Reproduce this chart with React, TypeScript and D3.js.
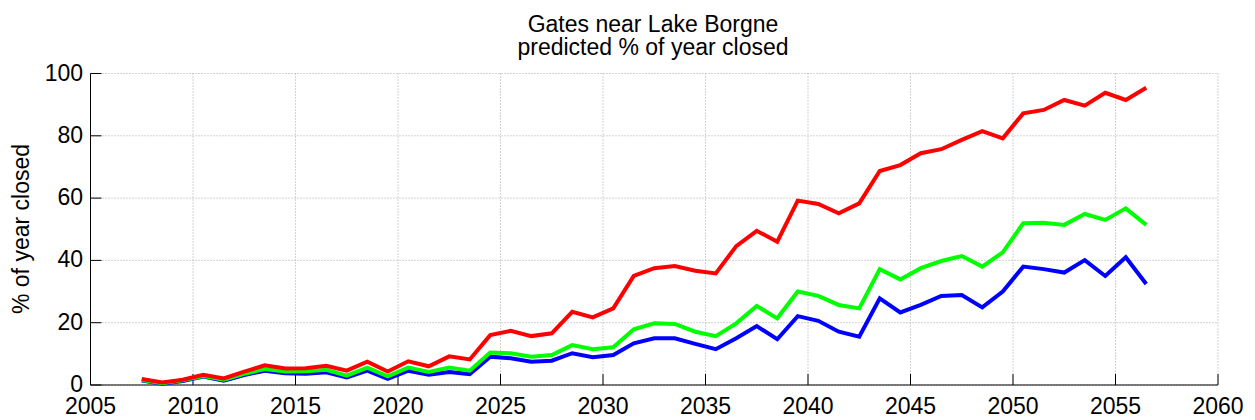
import React from "react";
import * as d3 from "d3";

const years = [
  2007.5, 2008.5, 2009.5, 2010.5, 2011.5, 2012.5, 2013.5, 2014.5, 2015.5, 2016.5,
  2017.5, 2018.5, 2019.5, 2020.5, 2021.5, 2022.5, 2023.5, 2024.5, 2025.5, 2026.5,
  2027.5, 2028.5, 2029.5, 2030.5, 2031.5, 2032.5, 2033.5, 2034.5, 2035.5, 2036.5,
  2037.5, 2038.5, 2039.5, 2040.5, 2041.5, 2042.5, 2043.5, 2044.5, 2045.5, 2046.5,
  2047.5, 2048.5, 2049.5, 2050.5, 2051.5, 2052.5, 2053.5, 2054.5, 2055.5, 2056.5,
];

const redValues = [
  1.9, 0.8, 1.7, 3.3, 2.1, 4.3, 6.3, 5.3, 5.4, 6.2,
  4.6, 7.5, 4.3, 7.6, 6.0, 9.2, 8.2, 16.0, 17.4, 15.7,
  16.6, 23.5, 21.7, 24.6, 35.0, 37.5, 38.2, 36.7, 35.8, 44.6,
  49.5, 46.0, 59.2, 58.1, 55.1, 58.3, 68.7, 70.6, 74.4, 75.7,
  78.7, 81.5, 79.2, 87.2, 88.3, 91.5, 89.7, 93.8, 91.5, 95.4,
];

const greenValues = [
  1.6, 0.6, 1.5, 2.9, 1.7, 3.6, 5.1, 4.3, 4.4, 4.9,
  3.0, 5.6, 2.8, 5.6, 4.2, 5.6, 4.6, 10.4, 10.2, 9.1,
  9.6, 12.8, 11.5, 12.1, 17.9, 19.8, 19.6, 17.1, 15.7, 19.8,
  25.4, 21.4, 30.0, 28.6, 25.7, 24.6, 37.2, 33.9, 37.5, 39.8,
  41.4, 38.0, 42.6, 51.9, 52.1, 51.4, 54.9, 53.0, 56.7, 51.4,
];

const blueValues = [
  1.4, 0.4, 1.3, 2.7, 1.4, 3.2, 4.6, 3.8, 3.6, 4.1,
  2.4, 4.6, 2.0, 4.6, 3.3, 4.2, 3.5, 9.1, 8.6, 7.5,
  7.8, 10.2, 8.9, 9.6, 13.4, 15.0, 15.0, 13.2, 11.5, 15.0,
  18.9, 14.7, 22.1, 20.6, 17.1, 15.5, 27.8, 23.3, 25.7, 28.6,
  28.9, 24.9, 30.0, 38.0, 37.2, 36.1, 40.1, 35.0, 41.0, 32.4,
];

const xTicks = [2005, 2010, 2015, 2020, 2025, 2030, 2035, 2040, 2045, 2050, 2055, 2060];
const yTicks = [0, 20, 40, 60, 80, 100];
const titleLines = ["Gates near Lake Borgne", "predicted % of year closed"];
const yLabel = "% of year closed";

const series = [
  { name: "low", color: "#0000ff", values: blueValues },
  { name: "mid", color: "#00ff00", values: greenValues },
  { name: "high", color: "#ff0000", values: redValues },
];

const W = 1255;
const H = 420;
const M = { left: 90.5, right: 1218, top: 73.5, bottom: 385 };
const FONT = "'Liberation Sans', Arial, Helvetica, sans-serif";

export default function App() {
  const x = d3.scaleLinear().domain([2005, 2060]).range([M.left, M.right]);
  const y = d3.scaleLinear().domain([0, 100]).range([M.bottom, M.top]);
  const line = d3
    .line<[number, number]>()
    .x((d) => x(d[0]))
    .y((d) => y(d[1]));

  return (
    <svg
      width={W}
      height={H}
      style={{ position: "absolute", left: 0, top: 0, background: "#fff" }}
      fontFamily={FONT}
    >
      {/* grid */}
      {xTicks.map((t) => (
        <line
          key={"gx" + t}
          x1={x(t)}
          x2={x(t)}
          y1={M.top}
          y2={M.bottom}
          stroke="#a8a8a8"
          strokeWidth={1}
          strokeDasharray="1,2"
        />
      ))}
      {yTicks.map((t) => (
        <line
          key={"gy" + t}
          x1={M.left}
          x2={M.right}
          y1={y(t)}
          y2={y(t)}
          stroke="#a8a8a8"
          strokeWidth={1}
          strokeDasharray="1,2"
        />
      ))}
      {/* ticks */}
      {xTicks.map((t) => (
        <line
          key={"tx" + t}
          x1={x(t)}
          x2={x(t)}
          y1={M.bottom}
          y2={M.bottom - 11}
          stroke="#000"
          strokeWidth={1}
        />
      ))}
      {yTicks.map((t) => (
        <line
          key={"ty" + t}
          x1={M.left}
          x2={M.left + 11}
          y1={y(t)}
          y2={y(t)}
          stroke="#000"
          strokeWidth={1}
        />
      ))}
      {/* axes */}
      <line x1={M.left} x2={M.left} y1={M.top} y2={M.bottom} stroke="#000" strokeWidth={1} />
      <line x1={M.left} x2={M.right} y1={M.bottom} y2={M.bottom} stroke="#000" strokeWidth={1} />
      {/* lines */}
      {series.map((s) => (
        <path
          key={s.name}
          d={line(years.map((yr, i) => [yr, s.values[i]] as [number, number])) || ""}
          fill="none"
          stroke={s.color}
          strokeWidth={4}
          strokeLinejoin="miter"
        />
      ))}
      {/* tick labels */}
      {xTicks.map((t) => (
        <text
          key={"lx" + t}
          x={x(t)}
          y={M.bottom + 28.5}
          textAnchor="middle"
          fontSize={23}
          fill="#000"
        >
          {t}
        </text>
      ))}
      {yTicks.map((t) => (
        <text
          key={"ly" + t}
          x={M.left - 7.5}
          y={y(t) + 7}
          textAnchor="end"
          fontSize={23}
          fill="#000"
        >
          {t}
        </text>
      ))}
      {/* y label */}
      <text
        transform={`translate(28.5, 229) rotate(-90)`}
        textAnchor="middle"
        fontSize={23}
        fill="#000"
      >
        {yLabel}
      </text>
      {/* title */}
      <text x={653} y={32} textAnchor="middle" fontSize={23} fill="#000">
        {titleLines[0]}
      </text>
      <text x={653} y={54.5} textAnchor="middle" fontSize={23} fill="#000">
        {titleLines[1]}
      </text>
    </svg>
  );
}
